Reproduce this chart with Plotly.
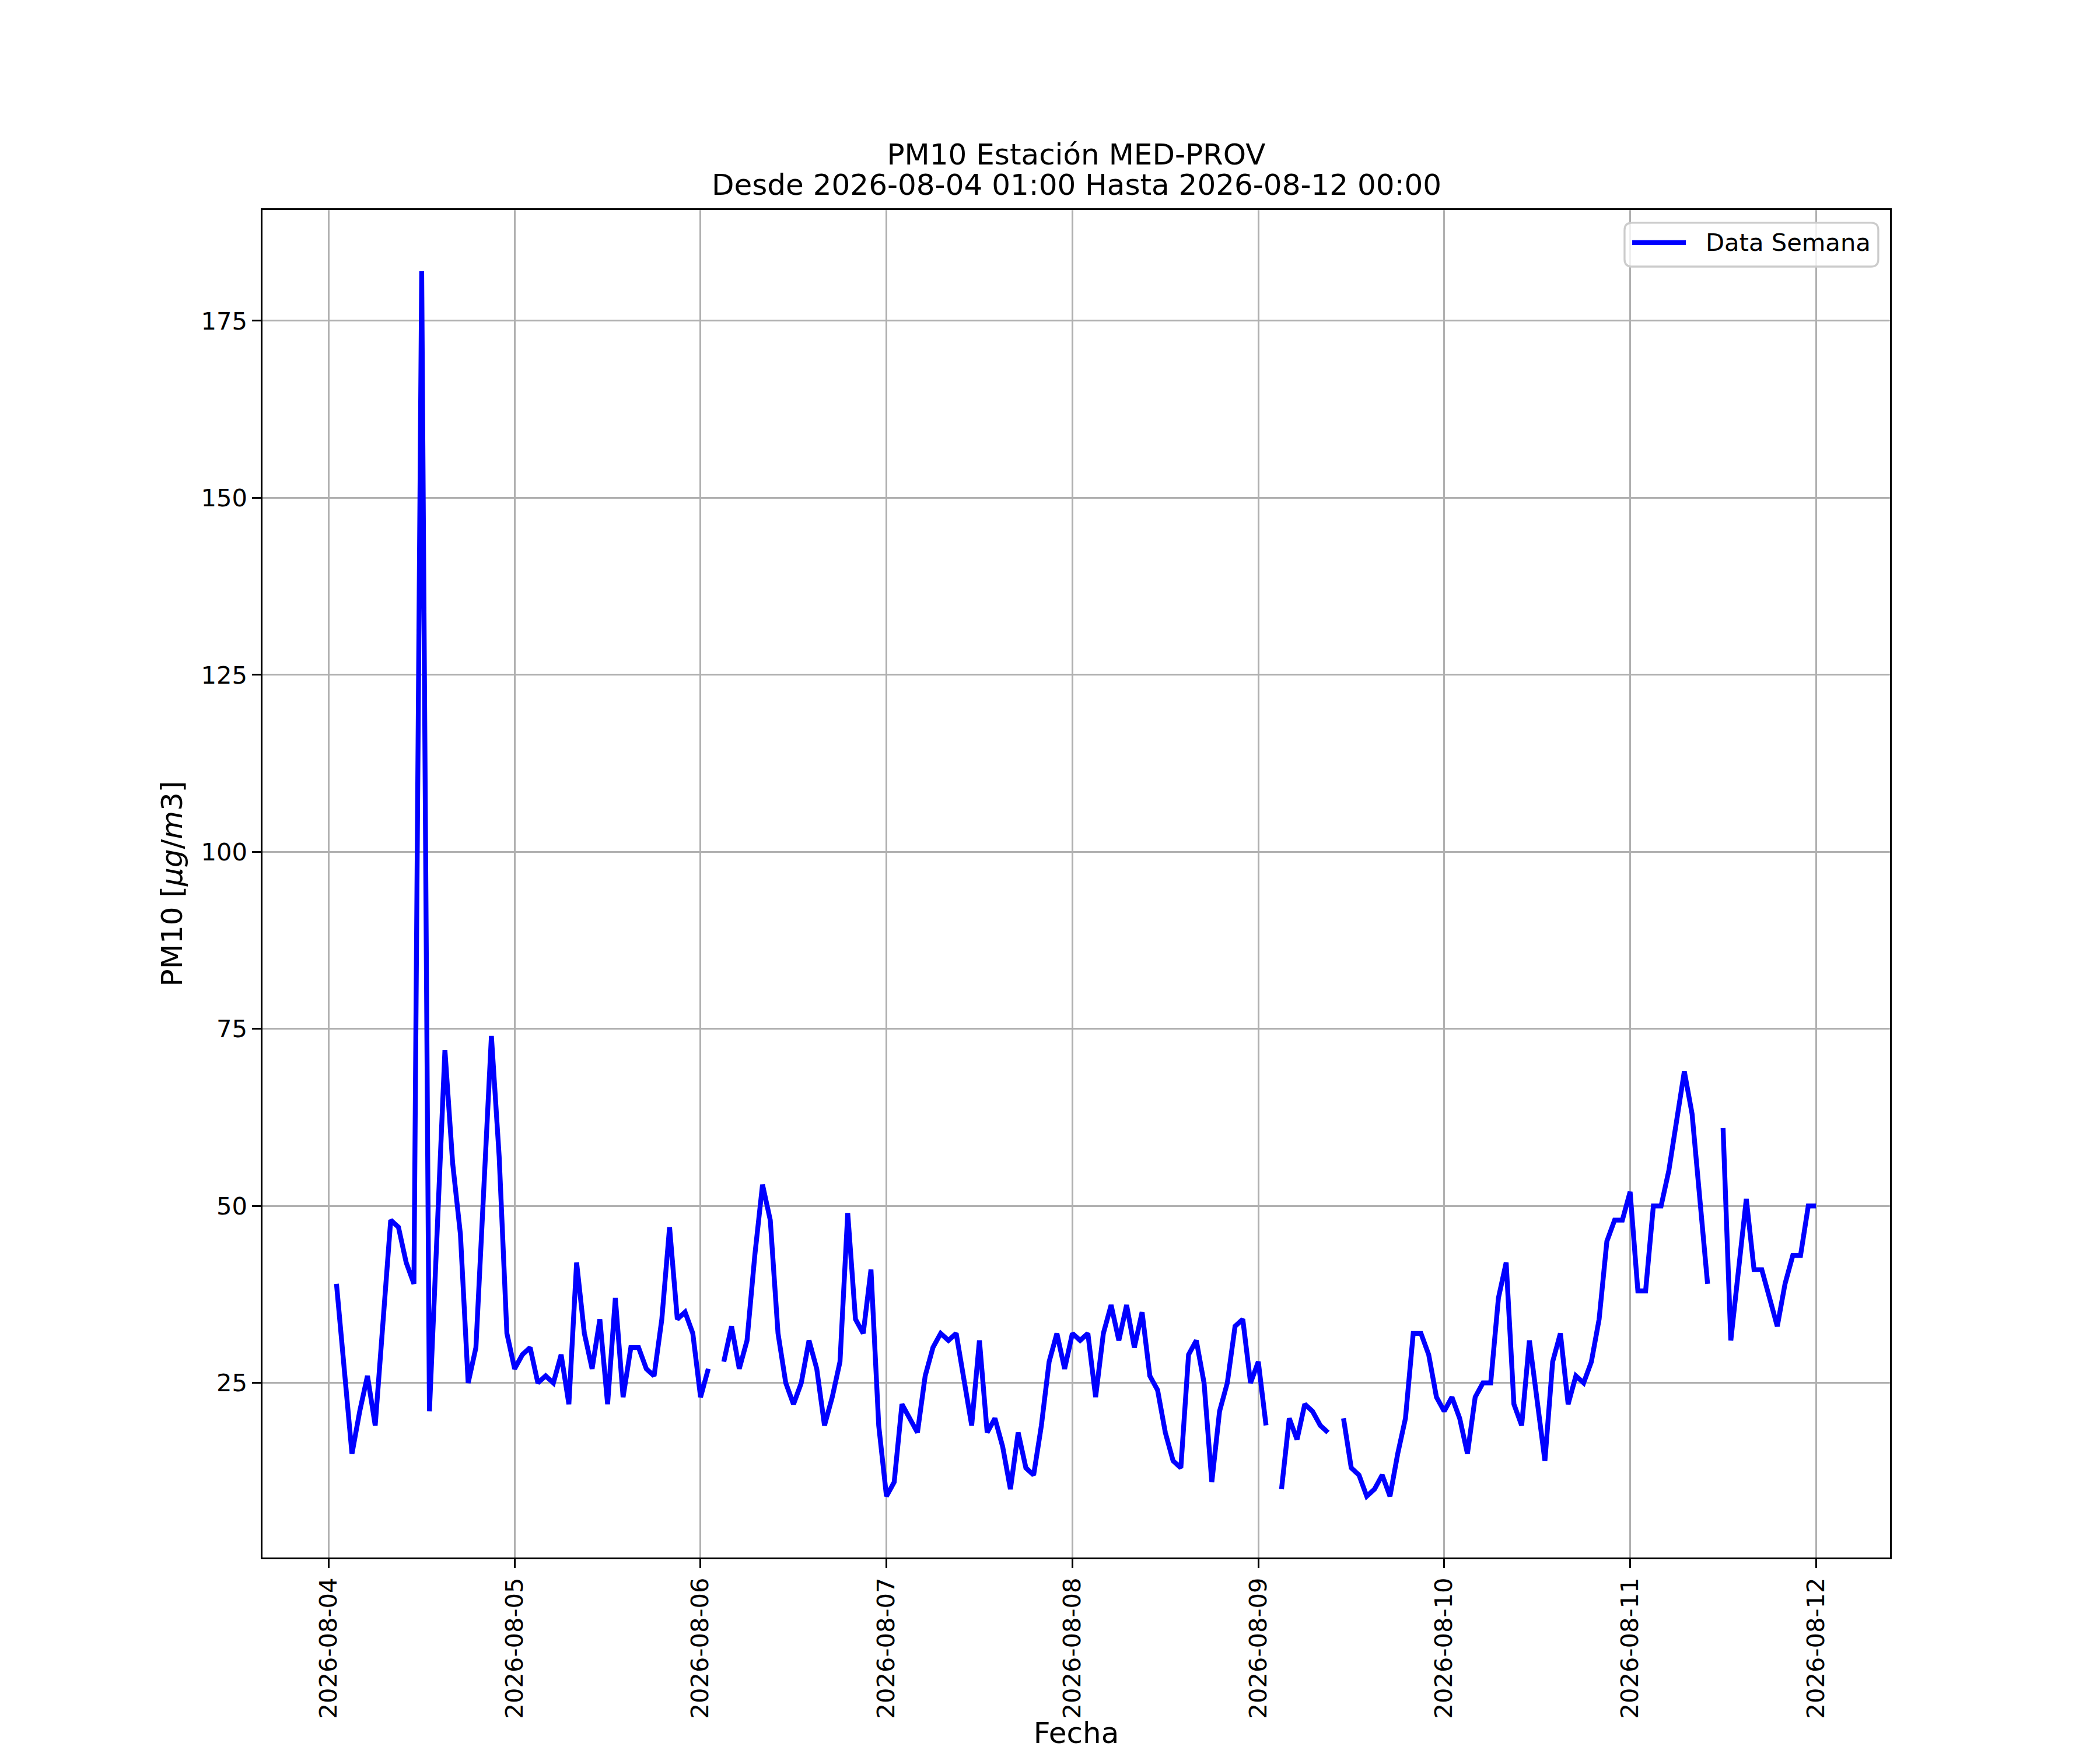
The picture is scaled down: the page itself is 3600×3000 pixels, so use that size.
import pandas as pd
import plotly.graph_objects as go

# hourly PM10 values, each list runs 01:00 of that day to 00:00 of the next
# None = missing hour (gap in the line)
dia_04 = [39, 26, 15, 21, 26, 19, 33, 48, 47, 42, 39, 182, 21, 47, 72, 56, 46, 25, 30, 52, 74, 57, 32, 27]
dia_05 = [29, 30, 25, 26, 25, 29, 22, 42, 32, 27, 34, 22, 37, 23, 30, 30, 27, 26, 34, 47, 34, 35, 32, 23]
dia_06 = [27, None, 28, 33, 27, 31, 43, 53, 48, 32, 25, 22, 25, 31, 27, 19, 23, 28, 49, 34, 32, 41, 19, 9]
dia_07 = [11, 22, 20, 18, 26, 30, 32, 31, 32, 25, 19, 31, 18, 20, 16, 10, 18, 13, 12, 19, 28, 32, 27, 32]
dia_08 = [31, 32, 23, 32, 36, 31, 36, 30, 35, 26, 24, 18, 14, 13, 29, 31, 25, 11, 21, 25, 33, 34, 25, 28]
dia_09 = [19, None, 10, 20, 17, 22, 21, 19, 18, None, 20, 13, 12, 9, 10, 12, 9, 15, 20, 32, 32, 29, 23, 21]
dia_10 = [23, 20, 15, 23, 25, 25, 37, 42, 22, 19, 31, 22, 14, 28, 32, 22, 26, 25, 28, 34, 45, 48, 48, 52]
dia_11 = [38, 38, 50, 50, 55, 62, 69, 63, 51, 39, None, 61, 31, 41, 51, 41, 41, 37, 33, 39, 43, 43, 50, 50]

inicio = "2026-08-04 01:00"
fin = "2026-08-12 00:00"
dias_ticks = ["2026-08-04", "2026-08-05", "2026-08-06", "2026-08-07",
              "2026-08-08", "2026-08-09", "2026-08-10", "2026-08-11", "2026-08-12"]
nombre_serie = "Data Semana"
titulo = "PM10 Estación MED-PROV"
subtitulo = "Desde " + inicio + " Hasta " + fin

pm10 = dia_04 + dia_05 + dia_06 + dia_07 + dia_08 + dia_09 + dia_10 + dia_11
fechas = pd.date_range(inicio, fin, freq="h")

# matplotlib-like autoscale margins (5%)
t0, t1 = fechas[0], fechas[-1]
dt = (t1 - t0) * 0.05
vals = [v for v in pm10 if v is not None]
dv = (max(vals) - min(vals)) * 0.05

PT = 300 / 72  # 300 dpi

fig = go.Figure()
fig.add_trace(
    go.Scatter(
        name=nombre_serie,
        x=fechas,
        y=pm10,
        mode="lines",
        line=dict(color="blue", width=2 * PT),
        connectgaps=False,
        showlegend=False,
    )
)

axis_common = dict(
    showline=True,
    linecolor="black",
    linewidth=0.8 * PT,
    mirror=True,
    ticks="outside",
    ticklen=3.5 * PT,
    tickwidth=0.8 * PT,
    tickcolor="black",
    showgrid=True,
    gridcolor="#b0b0b0",
    gridwidth=0.8 * PT,
    zeroline=False,
    tickfont=dict(size=10 * PT, color="black"),
    automargin=False,
)

# legend box drawn like matplotlib's (long line sample, rounded frame)
bx0, bx1, by0, by1 = 0.8369, 0.9928, 0.958, 0.9905
rx, ry = 0.0045, 0.0054
caja = (
    f"M{bx0 + rx},{by1} L{bx1 - rx},{by1} Q{bx1},{by1} {bx1},{by1 - ry} "
    f"L{bx1},{by0 + ry} Q{bx1},{by0} {bx1 - rx},{by0} "
    f"L{bx0 + rx},{by0} Q{bx0},{by0} {bx0},{by0 + ry} "
    f"L{bx0},{by1 - ry} Q{bx0},{by1} {bx0 + rx},{by1} Z"
)
ly = 0.9758
fig.add_shape(type="path", path=caja, xref="paper", yref="paper",
              fillcolor="rgba(255,255,255,0.8)",
              line=dict(color="#cccccc", width=0.8 * PT))
fig.add_shape(type="line", xref="paper", yref="paper",
              x0=0.8416, x1=0.8746, y0=ly, y1=ly,
              line=dict(color="blue", width=2 * PT))
fig.add_annotation(text=nombre_serie, xref="paper", yref="paper",
                   x=0.886, y=ly, xanchor="left", yanchor="middle",
                   showarrow=False, font=dict(size=10 * PT, color="black"))

# second title line
fig.add_annotation(text=subtitulo, xref="paper", yref="paper",
                   x=0.5, y=1 + (352 - 309) / 2310, xanchor="center", yanchor="middle",
                   showarrow=False, font=dict(size=12 * PT, color="black"))

fig.update_layout(
    width=3592,
    height=2992,
    margin=dict(l=442, r=360, t=352, b=330),
    paper_bgcolor="white",
    plot_bgcolor="white",
    font=dict(family="DejaVu Sans", color="black"),
    title=dict(
        text=titulo,
        x=0.5,
        xref="paper",
        xanchor="center",
        y=1 - 256 / 2992,
        yref="container",
        yanchor="middle",
        font=dict(size=12 * PT, color="black"),
    ),
    xaxis=dict(
        axis_common,
        type="date",
        range=[t0 - dt, t1 + dt],
        tickvals=dias_ticks,
        tickformat="%Y-%m-%d",
        tickangle=-90,
        title=dict(text="Fecha", font=dict(size=12 * PT), standoff=4 * PT),
    ),
    yaxis=dict(
        axis_common,
        range=[min(vals) - dv, max(vals) + dv],
        tick0=0,
        dtick=25,
        title=dict(
            text="PM10 [<i>μg</i>/<i>m</i>3]",
            font=dict(size=12 * PT),
            standoff=4 * PT,
        ),
    ),
    showlegend=False,
)

fig.write_html("out.html")
